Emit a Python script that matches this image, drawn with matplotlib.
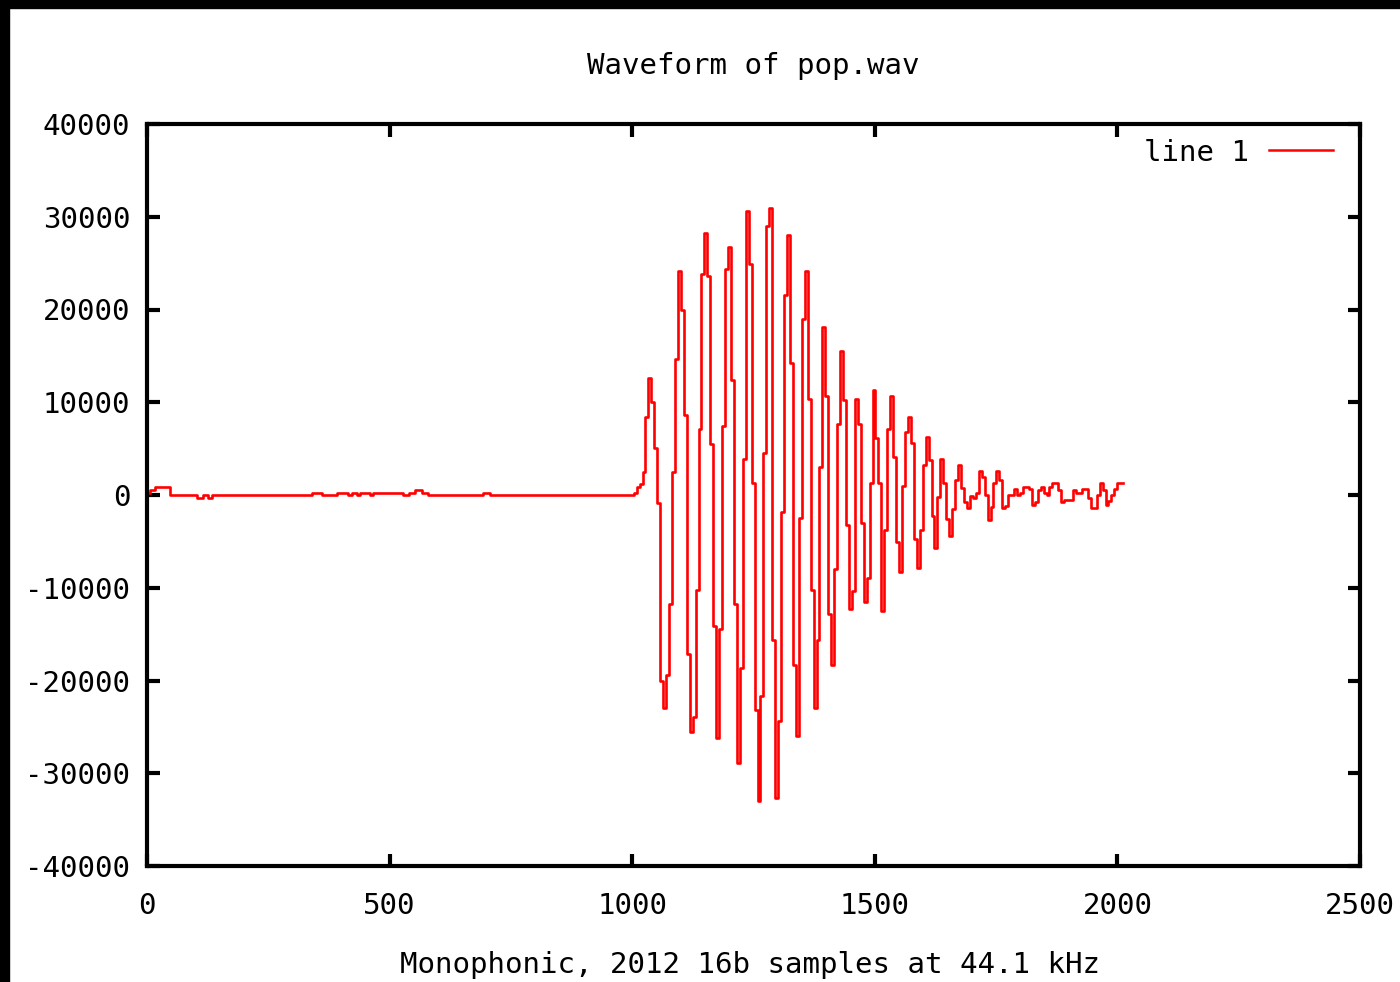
import numpy as np
import matplotlib
matplotlib.use('Agg')
import matplotlib.pyplot as plt
from matplotlib.patches import Rectangle

# quiet part before the pop: (sample, value) break points
quiet_x = [0, 6, 16, 47, 103, 115, 126, 134, 340, 361, 391, 415, 422, 433,
           439, 460, 466, 528, 540, 552, 566, 579, 692, 707]
quiet_y = [180, 540, 900, 0, -330, 0, -330, 0, 250, 0, 250, 0, 250, 0,
           250, 0, 250, 0, 200, 540, 200, 0, 250, 0]

# the pop itself, one value per held step
onset = 1003
n_samples = 2012
pop_a = [250, 900, 1200, 2500, 8400, 12600, 10000, 5100, -830, -20100,
         -23000, -19400, -11700, 2500, 14700, 24100, 20000, 8600, -17100, -25600,
         -23900, -10200, 7100, 23800, 28300, 23600, 5500, -14100, -26200, -14400,
         7400, 24400, 26700, 12400, -11700, -28900, -18600, 3900, 30600, 24900,
         1260, -23200, -33000, -21700]
pop_b = [4500, 29000, 30900, -15600, -32700, -24400, -1800, 21600, 28000, 14200,
         -18300, -26000, -2500, 19000, 24100, 10300, -10200, -23000, -15600, 3050,
         18100, 10700, -12800, -18300, -8000, 7700, 15500, 10200, -3200, -12300,
         -10300, 10300, 7700]
pop_c = [-3050, -11500, -9000, 1260, 11300, 6100, 1260, -12500, -3800, 7100,
         10700, 4100, -5100, -8300, 970, 6800, 8400, 5600, -4700, -7900,
         -3800, 3200, 6200, 3800, -2300, -5700, -180, 3900, 1260, -2600,
         -4400, -1540, 1600, 3200, 790, -790, -1430, -100, -300, 250,
         2600, 1900]
pop_d = [0, -2700, -1260, 1260, 2600, 1600, -1440, -1200, 0, 0,
         610, 0, 250, 900, 900, 610, -1080, -800, 540, 900,
         250, 0, 900, 1260, 1260, 540, -720, -540, -540, -540,
         540, 180, 180, 610, 610, -360, -1440, -1440, 0, 1260,
         540, -1080, -620, 0, 610, 1260, 1260]

pop = pop_a + pop_b + pop_c + pop_d
pop_x = list(np.linspace(onset, n_samples, len(pop) + 1)[:-1])

x = quiet_x + pop_x + [n_samples]
y = quiet_y + pop + [pop[-1]]

plt.rcParams['font.family'] = ['DejaVu Sans Mono']
plt.rcParams['axes.unicode_minus'] = False

fig = plt.figure(figsize=(14, 9.82), dpi=100)
fig.patch.set_facecolor('white')
ax = fig.add_axes([147/1400, 1 - 866/982, (1360 - 147)/1400, (866 - 124)/982])

ax.step(x, y, where='post', color='#ff0000', lw=1.9, label='line 1')

ax.set_xlim(0, 2500)
ax.set_ylim(-40000, 40000)
ax.set_xticks(range(0, 2501, 500))
ax.set_yticks(range(-40000, 40001, 10000))
ax.tick_params(direction='in', length=9, width=3, top=True, right=True,
               labelsize=21, color='black')
ax.tick_params(axis='x', pad=19)
ax.tick_params(axis='y', pad=12)
for s in ax.spines.values():
    s.set_linewidth(3)

leg = ax.legend(loc='upper right', bbox_to_anchor=(0.99, 1.0), frameon=False,
                markerfirst=False, fontsize=21, handlelength=2.2,
                handletextpad=0.7, borderaxespad=0.2, borderpad=0.3)
for ln in leg.get_lines():
    ln.set_linewidth(1.8)

fig.text(753/1400, 1 - 66/982, 'Waveform of pop.wav', ha='center', va='center',
         fontsize=21)
fig.text(750/1400, 1 - 965/982, 'Monophonic, 2012 16b samples at 44.1 kHz',
         ha='center', va='center', fontsize=21)

# black slide border at top and left
fig.add_artist(Rectangle((0, 1 - 8/982), 1, 8/982, transform=fig.transFigure,
                         color='black', zorder=10))
fig.add_artist(Rectangle((0, 0), 9/1400, 1, transform=fig.transFigure,
                         color='black', zorder=10))

fig.savefig('out.png', dpi=100)
